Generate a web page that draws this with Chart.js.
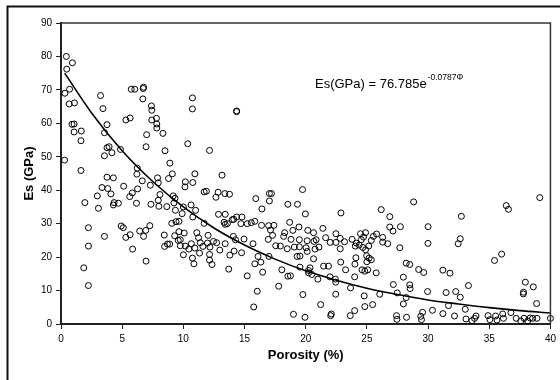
<!DOCTYPE html>
<html>
<head>
<meta charset="utf-8">
<script src="https://cdn.jsdelivr.net/npm/chart.js@4"></script>
<style>
  body { margin: 0; background: #fff; }
</style>
</head>
<body>
<canvas id="myChart" width="560" height="380"></canvas>
<script>
'use strict'

// porosity (%) and Es (GPa)
const porosity = [
  0.44, 0.93, 0.47, 0.32, 0.7, 0.67, 1.1, 0.9, 1.07, 1.07, 1.66, 1.63, 0.29, 1.63, 1.95, 2.24, 2.24, 1.86, 2.24,
  3.23, 3.43, 3.76, 3.55, 3.76, 3.93, 4.16, 3.55, 2.97, 3.06, 3.35, 3.76, 3.82, 4.08, 4.28, 4.34, 4.28, 4.69, 3.55,
  4.86, 5.12, 4.92, 5.09, 5.3, 5.3, 5.65, 5.62, 5.83, 5.74, 6.03, 6.23, 6.2, 6.26, 6.17, 5.65, 5.85, 6.43,
  6.69, 6.75, 6.72, 6.64, 6.75, 6.93, 7.0, 6.95, 6.95, 7.26, 7.35, 7.3, 7.39, 7.42, 7.42, 7.8, 7.83, 7.83,
  7.89, 7.95, 7.95, 8.0, 8.09, 8.33, 8.5, 8.65, 8.44, 8.47, 8.7, 8.88, 8.9, 8.79, 9.1, 9.17, 9.32, 9.23, 9.35,
  9.05, 9.29, 9.4, 9.64, 9.58, 9.64, 9.75, 9.75, 9.9, 10.0, 10.0, 10.07, 10.16, 10.13, 10.36, 10.16, 10.45,
  10.63, 10.74, 10.74, 10.77, 10.77, 10.65, 10.74, 10.86, 10.94, 11.0, 10.94, 11.1, 11.24, 11.32, 11.38, 11.6,
  11.7, 11.7, 11.88, 12.02, 12.14, 11.97, 12.17, 12.14, 12.14, 12.34, 12.46, 12.66, 12.84, 12.87, 12.72, 12.98,
  13.16, 13.39, 13.77, 13.42, 13.33, 13.42, 13.6, 13.42, 13.71, 13.8, 14.0, 14.12, 14.35, 14.35, 14.35, 14.09,
  14.15, 14.26, 14.79, 14.7, 14.76, 14.96, 15.22, 15.22, 15.55, 15.84, 15.69, 15.75, 15.92, 15.84, 16.04, 16.1,
  16.33, 16.39, 16.42, 16.48, 16.94, 17.0, 16.97, 17.12, 17.03, 17.2, 17.03, 17.29, 17.4, 17.55, 17.79, 17.93,
  18.05, 18.2, 18.28, 18.54, 18.49, 18.54, 18.69, 18.75, 18.8, 18.95, 19.0, 19.07, 19.33, 19.3, 19.45, 19.48,
  19.48, 19.53, 19.53, 19.74, 19.77, 19.94, 19.97, 20.03, 20.12, 20.12, 20.17, 20.23, 20.23, 20.35, 20.5, 20.64,
  20.64, 20.67, 20.76, 20.85, 20.99, 21.08, 21.22, 21.4, 21.46, 21.63, 21.86, 21.98, 22.0, 22.09, 22.04, 22.42,
  22.45, 22.45, 22.47, 22.47, 22.82, 22.82, 22.88, 22.86, 23.17, 23.26, 23.66, 23.64, 23.79, 24.0, 24.0, 24.02,
  24.1, 24.05, 24.13, 24.37, 24.48, 24.54, 24.6, 24.72, 24.66, 24.78, 24.83, 24.83, 24.89, 24.89, 24.98, 25.0,
  25.07, 25.15, 25.18, 25.36, 25.36, 25.47, 25.53, 25.76, 25.79, 26.05, 26.17, 26.29, 26.29, 26.7, 26.87, 26.87,
  27.13, 27.16, 27.42, 27.45, 27.48, 27.69, 27.74, 27.98, 27.98, 28.21, 28.24, 28.21, 28.5, 28.5, 28.53, 28.82,
  29.23, 29.4, 29.46, 29.55, 29.64, 29.99, 30.0, 29.96, 30.36, 31.21, 31.21, 31.47, 31.67, 31.79, 32.16, 32.26,
  32.46, 32.63, 32.72, 32.63, 33.04, 33.1, 33.3, 33.59, 33.8, 33.92, 34.9, 35.05, 35.43, 35.52, 35.63, 36.01,
  36.1, 36.16, 36.39, 36.57, 36.77, 37.2, 37.58, 37.78, 37.8, 37.95, 37.84, 38.14, 38.34, 38.55, 38.6, 38.87,
  38.9, 39.13, 40
];
const modulus = [
  80, 78.1, 76.2, 69, 70.2, 65.8, 66.1, 59.7, 59.8, 57.4, 57.7, 54.8, 49, 45.9, 36.3, 28.8, 23.3, 16.8, 11.5,
  68.3, 64.4, 59.6, 57.2, 52.7, 53, 51.2, 50.3, 38.3, 34.6, 40.8, 43.9, 40.5, 38.9, 43.7, 36.3, 35.6, 36.1, 26.2,
  52.2, 41.2, 29.3, 28.8, 25.9, 61, 61.6, 38.1, 39.2, 70.2, 70.2, 46.6, 44.8, 40.4, 36.1, 26.7, 22.4, 27.8,
  67.3, 70.8, 70.4, 42.8, 26.2, 28, 56.6, 53, 18.8, 29.4, 35.8, 41.5, 65.2, 63.9, 61, 61.5, 59.8, 58.6,
  43.7, 42.2, 37, 35.2, 38.7, 57, 51.8, 35.1, 26.6, 23.2, 23.9, 23.9, 48.1, 43.5, 44.9, 38.3, 37.6, 36.2, 34,
  30.1, 26.4, 30.6, 30.7, 25, 27.6, 25.2, 23.4, 33, 35, 20.7, 27.2, 42.5, 41, 53.9, 23.3, 22.4,
  35.6, 67.6, 64.3, 42.3, 32, 24, 19.7, 18, 44.9, 34, 22.7, 27.3, 25.8, 21.2, 24.3, 23.2,
  30.1, 39.5, 39.7, 26.5, 51.9, 24.2, 23, 20.8, 19.1, 17.8, 24.7, 37.9, 39.4, 32.8, 24.3, 22.1,
  44.5, 39, 38.8, 32.8, 30.4, 29.8, 30, 24, 16.4, 20.6, 31.2, 31.3, 32, 63.7, 63.5, 26.2,
  21.8, 25.2, 32, 30, 21.3, 25.4, 14.4, 30, 30.3, 30.7, 24, 5.1, 37.5, 18, 9.8, 20.2,
  18.5, 29.5, 34.4, 15.5, 25.3, 20.2, 29.4, 28.1, 39, 39, 36.8, 26.5, 29.5, 23.4, 11.3, 23.3,
  16.2, 26.2, 27.3, 35.8, 22.5, 14.3, 30.4, 14.4, 25.3, 28, 2.9, 23, 35.8, 20.2, 29, 25.2,
  23.1, 20.3, 17, 40.2, 8.8, 2, 32.9, 22.8, 21.7, 24.9, 28, 16, 15.3, 16.8, 14.8, 19.5,
  27.3, 24.7, 22.4, 25.2, 13.4, 23, 5.8, 28.6, 17.3, 25.8, 17.3, 14.1, 24.4, 3, 2.5, 13.4,
  12.5, 8.9, 27, 24.4, 22.5, 25.6, 33.2, 18.5, 24.6, 16.2, 10.8, 2.5, 25.3, 4, 14.1, 17.9,
  19.8, 23.3, 24.2, 23.6, 27, 25.2, 16.2, 26, 22.9, 8.4, 5.2, 15.8, 22.2, 27.3, 20.4, 18.6,
  16.2, 23.3, 19.7, 25, 19.2, 5.8, 26.2, 15.3, 26.9, 8.9, 34.2, 25.9, 24.5, 24, 32.1, 29,
  27.8, 11.8, 2.5, 1.4, 9.3, 22.8, 29.1, 14, 6, 18.2, 2, 7.9, 17.8, 11.7, 10.6, 36.5,
  16.3, 2.3, 1.3, 3.5, 15.4, 24.1, 29.1, 9.7, 4.1, 16.1, 3.1, 9.4, 5.5, 15.2, 2.4, 9.7,
  24, 25.5, 32.2, 8, 4.4, 1.5, 11.5, 1, 1.7, 2.4, 2.5, 1.3, 19, 2.4, 1.2, 20.9,
  3, 1.7, 35.4, 34.3, 3.4, 1.7, 0.9, 9, 9.5, 12.5, 1.7, 0.9, 1.8, 1.7, 11.1, 6.1,
  1.7, 37.8, 1.7
];

// fitted curve read along the line drawn on the chart
const trendX = [0.3, 2.5, 5, 7.5, 10, 12.5, 15, 17.5, 20, 22.5, 25, 27.5, 30, 32.5, 35, 37.5, 40];
const trendY = [75.0, 63.1, 51.8, 42.6, 35.0, 28.7, 23.6, 19.4, 15.9, 13.1, 10.7, 8.8, 7.2, 6.0, 4.9, 4.0, 3.3];

const xTicks = [0, 5, 10, 15, 20, 25, 30, 35, 40];
const yTicks = [0, 10, 20, 30, 40, 50, 60, 70, 80, 90];

const points = porosity.map((x, i) => ({ x: x, y: modulus[i] }));
const trend = trendX.map((x, i) => ({ x: x, y: trendY[i] }));

const FONT = '"Liberation Sans", Arial, sans-serif';

const framePlugin = {
  id: 'frame',
  afterDraw(chart) {
    const ctx = chart.ctx;
    const a = chart.chartArea;
    ctx.save();
    // outer chart border
    ctx.strokeStyle = '#111';
    ctx.lineWidth = 2;
    ctx.beginPath();
    ctx.moveTo(7.5, 380);
    ctx.lineTo(7.5, 6.5);
    ctx.lineTo(560, 6.5);
    ctx.stroke();
    // plot area top / right
    ctx.strokeStyle = '#333';
    ctx.lineWidth = 1.5;
    ctx.beginPath();
    ctx.moveTo(a.left, a.top);
    ctx.lineTo(a.right, a.top);
    ctx.lineTo(a.right, a.bottom);
    ctx.stroke();
    // equation
    ctx.fillStyle = '#000';
    ctx.textBaseline = 'alphabetic';
    ctx.font = '13px ' + FONT;
    const main = 'Es(GPa) = 76.785e';
    ctx.fillText(main, 315, 88);
    const w = ctx.measureText(main).width;
    ctx.font = '8.5px ' + FONT;
    ctx.fillText('-0.0787\u03A6', 315 + w + 1, 80);
    ctx.restore();
  }
};

const ctx = document.getElementById('myChart');

new Chart(ctx, {
  type: 'scatter',
  data: {
    datasets: [{
      label: 'Es',
      data: points,
      pointStyle: 'circle',
      pointRadius: 3,
      borderWidth: 1,
      borderColor: '#000',
      backgroundColor: 'rgba(255,255,255,0)',
      clip: 8
    }, {
      type: 'line',
      label: 'fit',
      data: trend,
      borderColor: '#000',
      borderWidth: 1.6,
      pointRadius: 0,
      fill: false,
      cubicInterpolationMode: 'monotone'
    }]
  },
  options: {
    responsive: false,
    animation: false,
    layout: { padding: { left: 20, top: 23, right: 8, bottom: 0 } },
    plugins: {
      legend: { display: false },
      tooltip: { enabled: false }
    },
    scales: {
      x: {
        type: 'linear',
        min: 0,
        max: 40,
        afterBuildTicks: (s) => { s.ticks = xTicks.map(v => ({ value: v })); },
        afterFit: (s) => { s.height = 56; },
        grid: { drawOnChartArea: false, tickLength: 5, color: '#222' },
        border: { color: '#222', width: 2 },
        ticks: { color: '#000', padding: 4, font: { family: FONT, size: 10 } },
        title: {
          display: true,
          text: 'Porosity (%)',
          color: '#000',
          padding: { top: 0, bottom: 17 },
          font: { family: FONT, size: 13, weight: 'bold' }
        }
      },
      y: {
        min: 0,
        max: 90,
        afterBuildTicks: (s) => { s.ticks = yTicks.map(v => ({ value: v })); },
        afterFit: (s) => { s.width = 41; },
        grid: { drawOnChartArea: false, tickLength: 5, color: '#222' },
        border: { color: '#222', width: 2 },
        ticks: { color: '#000', padding: 4, font: { family: FONT, size: 10 } },
        title: {
          display: true,
          text: 'Es (GPa)',
          color: '#000',
          padding: { top: 2, bottom: 0 },
          font: { family: FONT, size: 13, weight: 'bold' }
        }
      }
    }
  },
  plugins: [framePlugin]
});
</script>
</body>
</html>
